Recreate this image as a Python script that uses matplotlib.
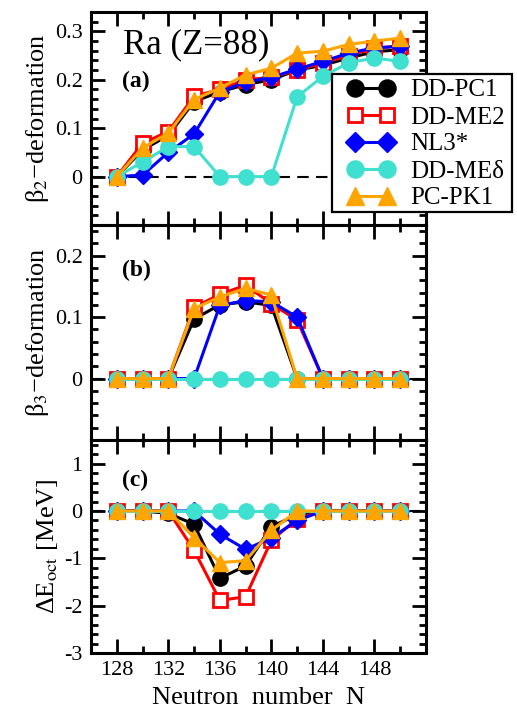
import matplotlib
matplotlib.use("Agg")
import matplotlib.pyplot as plt
from matplotlib.patches import Rectangle
from matplotlib.ticker import MultipleLocator, FuncFormatter

plt.rcParams["font.family"] = ["Liberation Serif", "DejaVu Serif"]
plt.rcParams["mathtext.fontset"] = "stix"
plt.rcParams["axes.unicode_minus"] = False

# Neutron numbers
N = [128, 130, 132, 134, 136, 138, 140, 142, 144, 146, 148, 150]

labels = ["DD-PC1", "DD-ME2", "NL3*", "DD-MEδ", "PC-PK1"]

# Quadrupole deformation beta_2
b2_ddpc1 = [0.0, 0.055, 0.085, 0.155, 0.175, 0.19, 0.20, 0.22, 0.23, 0.245, 0.258, 0.262]
b2_ddme2 = [0.0, 0.069, 0.093, 0.166, 0.180, 0.20, 0.205, 0.22, 0.235, 0.25, 0.265, 0.27]
b2_nl3s = [0.0, 0.003, 0.05, 0.088, 0.175, 0.195, 0.205, 0.222, 0.238, 0.255, 0.266, 0.269]
b2_ddmed = [0.0, 0.03, 0.062, 0.062, 0.0, 0.0, 0.0, 0.165, 0.207, 0.235, 0.245, 0.238]
b2_pcpk1 = [0.0, 0.059, 0.09, 0.159, 0.183, 0.21, 0.224, 0.255, 0.259, 0.273, 0.28, 0.286]

# Octupole deformation beta_3
b3_ddpc1 = [0, 0, 0, 0.097, 0.12, 0.125, 0.119, 0, 0, 0, 0, 0]
b3_ddme2 = [0, 0, 0, 0.116, 0.137, 0.152, 0.122, 0.095, 0, 0, 0, 0]
b3_nl3s = [0, 0, 0, 0, 0.119, 0.127, 0.125, 0.10, 0, 0, 0, 0]
b3_ddmed = [0, 0, 0, 0, 0, 0, 0, 0, 0, 0, 0, 0]
b3_pcpk1 = [0, 0, 0, 0.114, 0.133, 0.147, 0.136, 0, 0, 0, 0, 0]

# Octupole deformation energy (MeV)
de_ddpc1 = [0, 0, -0.05, -0.28, -1.42, -1.16, -0.33, -0.08, 0, 0, 0, 0]
de_ddme2 = [0, 0, 0, -0.83, -1.89, -1.81, -0.62, -0.17, 0, 0, 0, 0]
de_nl3s = [0, 0, 0, 0, -0.49, -0.81, -0.57, -0.20, 0, 0, 0, 0]
de_ddmed = [0, 0, 0, 0, 0, 0, 0, 0, 0, 0, 0, 0]
de_pcpk1 = [0, 0, 0, -0.56, -1.09, -1.05, -0.41, 0, 0, 0, 0, 0]

styles = [
    dict(color="black", marker="o", ms=11, mfc="black", mec="black", mew=1, zorder=3),
    dict(color="red", marker="s", ms=9.5, mfc="white", mec="red", mew=2, zorder=4),
    dict(color="blue", marker="D", ms=9, mfc="blue", mec="blue", mew=1, zorder=5),
    dict(color="turquoise", marker="o", ms=11, mfc="turquoise", mec="turquoise", mew=1, zorder=6),
    dict(color="orange", marker="^", ms=12, mfc="orange", mec="orange", mew=1, zorder=7),
]

W, H = 517, 711
fig = plt.figure(figsize=(W / 100, H / 100), dpi=100)

left, right = 91, 426
rows = [(12, 225), (225, 440), (440, 653)]
axes = []
for top, bot in rows:
    ax = fig.add_axes([left / W, 1 - bot / H, (right - left) / W, (bot - top) / H])
    axes.append(ax)


def frac_fmt(v, p):
    if v < -1e-9:
        return ""
    return "0" if abs(v) < 1e-9 else f"{v:.1f}"


def x_fmt(v, p):
    return "" if v > 150 or v < 127 else f"{v:.0f}"


panels = [
    (axes[0], [b2_ddpc1, b2_ddme2, b2_nl3s, b2_ddmed, b2_pcpk1], (-0.1, 0.34), 0.1, 0.02,
     "β$_2$−deformation", "(a)", 0.676, FuncFormatter(frac_fmt)),
    (axes[1], [b3_ddpc1, b3_ddme2, b3_nl3s, b3_ddmed, b3_pcpk1], (-0.1, 0.25), 0.1, 0.02,
     "β$_3$−deformation", "(b)", 0.79, FuncFormatter(frac_fmt)),
    (axes[2], [de_ddpc1, de_ddme2, de_nl3s, de_ddmed, de_pcpk1], (-3, 1.5), 1, 0.2,
     "ΔE$_{\\rm oct}$ [MeV]", "(c)", 0.81, FuncFormatter(lambda v, p: f"{v:.0f}")),
]

handles = []
for ax, series, ylim, maj, mnr, ylab, tag, tagy, fmt in panels:
    ax.axhline(0, color="black", lw=1.5, ls=(0, (5.5, 3.5)), zorder=2)
    hs = []
    for vals, st, lab in zip(series, styles, labels):
        (h,) = ax.plot(N, vals, lw=2.2, label=lab, **st)
        hs.append(h)
    if not handles:
        handles = hs
    ax.set_xlim(126, 152)
    ax.set_ylim(*ylim)
    ax.xaxis.set_major_locator(MultipleLocator(4))
    ax.xaxis.set_minor_locator(MultipleLocator(2))
    ax.xaxis.set_major_formatter(FuncFormatter(x_fmt))
    ax.yaxis.set_major_locator(MultipleLocator(maj))
    ax.yaxis.set_minor_locator(MultipleLocator(mnr))
    ax.yaxis.set_major_formatter(fmt)
    ax.tick_params(which="both", direction="in", top=True, right=True, labelsize=16, pad=6)
    ax.tick_params(which="major", length=10, width=2)
    ax.tick_params(which="minor", length=5, width=2)
    for s in ax.spines.values():
        s.set_linewidth(2.2)
    ax.set_ylabel(ylab, fontsize=19, labelpad=3)
    ax.text(0.093, tagy, tag, transform=ax.transAxes, fontsize=17, fontweight="bold",
            va="center", ha="left")
    if ax is not axes[2]:
        ax.tick_params(labelbottom=False)

axes[2].set_xlabel("Neutron  number  N", fontsize=19, labelpad=5)

axes[0].text(0.096, 0.808, "Ra (Z=88)", transform=axes[0].transAxes, fontsize=25,
             va="baseline", ha="left")

# Legend box spanning over the right edge of the top panel
lx0, lx1, ly0, ly1 = 332, 512, 74, 212
fig.patches.append(Rectangle((lx0 / W, 1 - ly1 / H), (lx1 - lx0) / W, (ly1 - ly0) / H,
                             transform=fig.transFigure, facecolor="white", edgecolor="black",
                             lw=1.6, zorder=4))
fig.legend(handles=handles, loc="upper left", bbox_to_anchor=(347.5 / W, 1 - 79 / H),
           frameon=False, fontsize=18, numpoints=2, handlelength=1.88, handletextpad=0.62,
           labelspacing=0.18, borderpad=0, borderaxespad=0, markerscale=1.12)

fig.savefig("out.png", dpi=100)
